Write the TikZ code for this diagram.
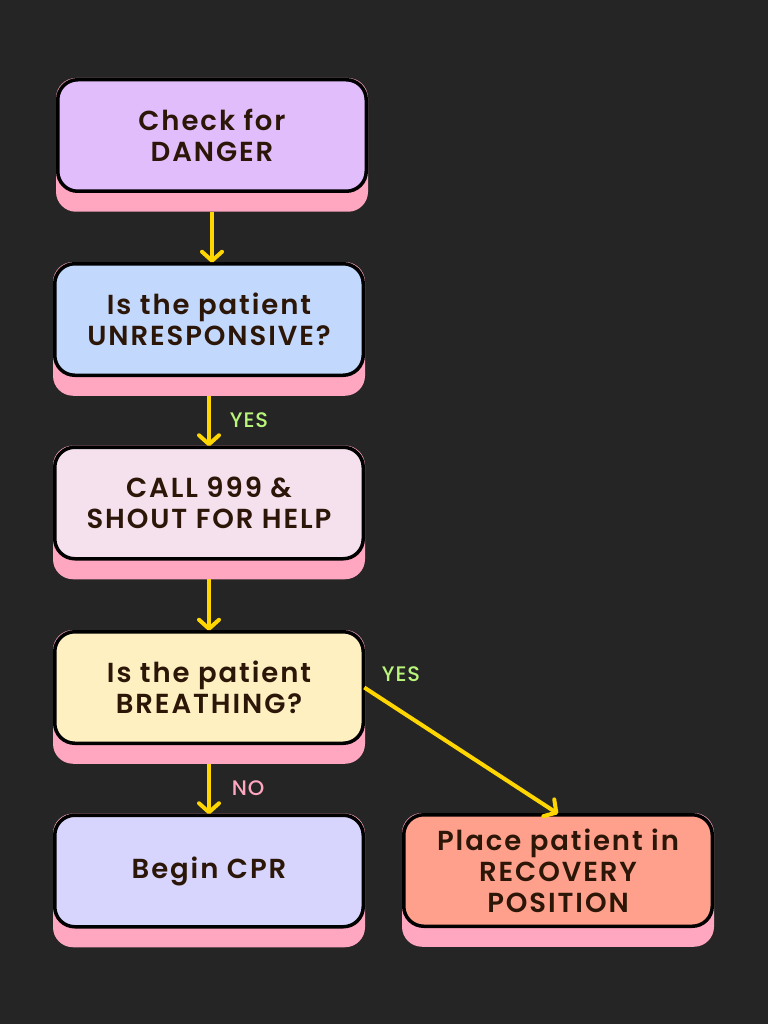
\documentclass[tikz,border=0pt]{standalone}
\usepackage{fontspec}
\setmainfont{Poppins}[BoldFont={Poppins SemiBold}]
\newfontfamily\lblfont{Poppins Medium}[LetterSpace=4]
\usetikzlibrary{arrows.meta,backgrounds}
\definecolor{bgc}{HTML}{252525}
\definecolor{shadowc}{HTML}{FFA6C0}
\definecolor{txtc}{HTML}{2B1608}
\definecolor{arrc}{HTML}{FFD600}
\definecolor{yesc}{HTML}{B9F57A}
\definecolor{noc}{HTML}{FFA6C0}
\definecolor{c1}{HTML}{E2BDFC}
\definecolor{c2}{HTML}{C2D8FC}
\definecolor{c3}{HTML}{F5E1EE}
\definecolor{c4}{HTML}{FFF0C2}
\definecolor{c5}{HTML}{D7D5FE}
\definecolor{c6}{HTML}{FFA08C}
\tikzset{
  box/.style={draw=black, line width=3.5pt, rounded corners=20pt,
    minimum width=308.5pt, minimum height=111.5pt, align=center,
    text=txtc, inner sep=0pt, outer sep=0pt,
    font=\fontsize{27.5}{31}\selectfont\bfseries\addfontfeature{LetterSpace=7}},
  flow/.style={draw=arrc, line width=4pt,
    -{Straight Barb[length=9pt,width=20pt,line cap=round,line join=round]}},
  lbl/.style={font=\fontsize{21}{24}\selectfont\lblfont, inner sep=0pt},
  shad/.style={fill=shadowc, rounded corners=20pt}
}
\newcommand{\shadowof}[1]{%
  \fill[shad] ([xshift=-1.75pt,yshift=1.75pt]#1.north west) rectangle ([xshift=1.75pt,yshift=-20.5pt]#1.south east);}
\begin{document}
\begin{tikzpicture}[x=1pt,y=-1pt]
\node[box, fill=c1] (b1) at (212,135.5) {Check for\\DANGER};
\node[box, fill=c2] (b2) at (209,319.5) {Is the patient\\UNRESPONSIVE?};
\node[box, fill=c3] (b3) at (209,503) {CALL 999 \&\\SHOUT FOR HELP};
\node[box, fill=c4] (b4) at (209,687.5) {Is the patient\\BREATHING?};
\node[box, fill=c5] (b5) at (209,871) {Begin CPR};
\node[box, fill=c6] (b6) at (558,870.5) {Place patient in\\RECOVERY\\POSITION};
\begin{scope}[on background layer]
\fill[bgc] (0,0) rectangle (768,1024);
\shadowof{b1}\shadowof{b2}\shadowof{b3}\shadowof{b4}\shadowof{b5}\shadowof{b6}
\end{scope}
\draw[flow] ([yshift=-20.5pt]b1.south) -- ([yshift=1pt]b1.south |- b2.north);
\draw[flow] ([yshift=-20.5pt]b2.south) -- ([yshift=1pt]b3.north);
\draw[flow] ([yshift=-20.5pt]b3.south) -- ([yshift=1pt]b4.north);
\draw[flow] ([yshift=-20.5pt]b4.south) -- ([yshift=1pt]b5.north);
\draw[flow] ([xshift=1pt]b4.east) -- ([yshift=1pt]b6.north);
\node[lbl, text=yesc] (y1) at (249,420) {YES};
\node[lbl, text=yesc] (y2) at (401,674) {YES};
\node[lbl, text=noc] (n1) at (248,788) {NO};
\end{tikzpicture}
\end{document}
